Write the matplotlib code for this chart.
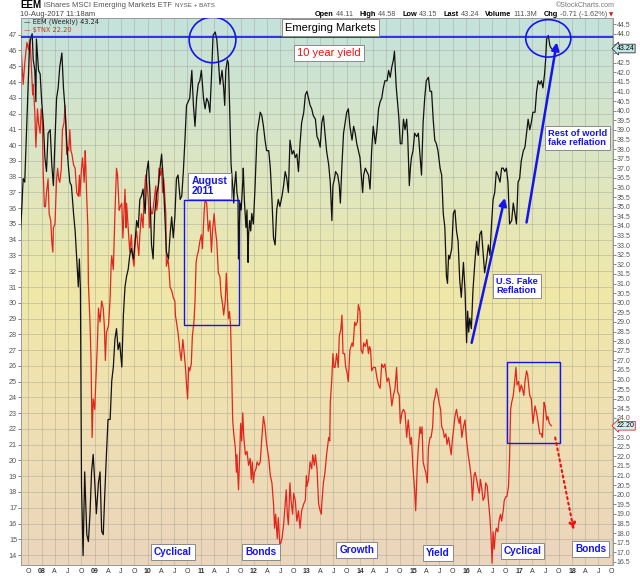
import matplotlib
matplotlib.use("Agg")
import matplotlib.pyplot as plt
import matplotlib.transforms as mtransforms
from matplotlib.colors import LinearSegmentedColormap
from matplotlib.patches import Ellipse, Rectangle
import numpy as np

plt.rcParams['font.family'] = ['Liberation Sans', 'DejaVu Sans']

# EEM weekly close (right axis)
eem_pts = [
    (2007.59, 33.38), (2007.62, 34.65), (2007.65, 36.47), (2007.68, 36.28), (2007.73, 40.28), (2007.77, 43.38),
    (2007.79, 43.74), (2007.82, 44.01), (2007.84, 42.65), (2007.87, 42.10), (2007.89, 40.47), (2007.90, 43.74),
    (2007.94, 42.10), (2007.97, 41.92),
    (2008.00, 40.47), (2008.03, 39.38), (2008.06, 37.56), (2008.09, 36.83), (2008.12, 38.83), (2008.16, 39.01),
    (2008.19, 37.19), (2008.22, 36.10), (2008.25, 38.47), (2008.28, 40.65), (2008.31, 41.19), (2008.34, 42.28),
    (2008.38, 43.01), (2008.41, 41.19), (2008.44, 40.10), (2008.47, 38.47), (2008.50, 37.19), (2008.53, 36.28),
    (2008.56, 36.10), (2008.60, 34.65), (2008.63, 33.74), (2008.66, 32.28), (2008.69, 30.83), (2008.71, 32.28),
    (2008.73, 30.65), (2008.75, 20.47), (2008.78, 16.83), (2008.81, 21.19), (2008.85, 17.92), (2008.88, 17.56),
    (2008.91, 19.01), (2008.94, 21.19), (2008.97, 22.10),
    (2009.00, 20.65), (2009.03, 19.01), (2009.07, 20.65), (2009.10, 21.19), (2009.13, 18.10), (2009.16, 17.92),
    (2009.19, 20.10), (2009.22, 22.10), (2009.25, 23.92), (2009.29, 23.92), (2009.32, 25.92), (2009.35, 26.65),
    (2009.38, 28.10), (2009.41, 28.65), (2009.44, 27.56), (2009.47, 27.92), (2009.51, 26.65), (2009.54, 29.38),
    (2009.57, 30.83), (2009.60, 31.38), (2009.63, 31.74), (2009.66, 32.47), (2009.69, 32.83), (2009.73, 32.28),
    (2009.76, 33.19), (2009.79, 34.28), (2009.82, 33.92), (2009.85, 35.38), (2009.88, 35.56), (2009.91, 35.92),
    (2009.95, 34.65), (2009.98, 36.83),
    (2010.01, 37.38), (2010.04, 35.74), (2010.07, 33.01), (2010.10, 32.28), (2010.13, 34.65), (2010.17, 35.74),
    (2010.20, 36.10), (2010.23, 37.01), (2010.26, 37.74), (2010.29, 36.47), (2010.32, 34.65), (2010.35, 32.65),
    (2010.39, 32.28), (2010.42, 33.56), (2010.45, 34.47), (2010.48, 33.38), (2010.51, 34.47), (2010.54, 36.47),
    (2010.57, 36.65), (2010.61, 35.38), (2010.64, 35.56), (2010.67, 36.83), (2010.70, 38.47), (2010.73, 40.28),
    (2010.76, 40.47), (2010.79, 40.65), (2010.83, 42.10), (2010.86, 40.28), (2010.89, 39.19), (2010.92, 40.65),
    (2010.95, 41.38), (2010.98, 41.56),
    (2011.01, 42.10), (2011.05, 40.65), (2011.08, 40.10), (2011.11, 40.65), (2011.14, 40.47), (2011.17, 39.92),
    (2011.20, 41.74), (2011.23, 43.92), (2011.27, 44.10), (2011.30, 43.74), (2011.33, 42.65), (2011.36, 41.38),
    (2011.40, 42.10), (2011.43, 41.19), (2011.45, 40.28), (2011.47, 42.10), (2011.50, 42.65), (2011.52, 42.47),
    (2011.53, 41.56), (2011.55, 39.38), (2011.57, 37.19), (2011.60, 36.10), (2011.62, 35.19), (2011.63, 35.92),
    (2011.66, 36.83), (2011.68, 35.74), (2011.70, 35.38), (2011.71, 32.28), (2011.72, 33.56), (2011.74, 35.19),
    (2011.76, 34.83), (2011.79, 36.28), (2011.80, 37.01), (2011.82, 35.38), (2011.85, 33.92), (2011.87, 34.83),
    (2011.89, 32.10), (2011.90, 33.56), (2011.92, 34.28), (2011.94, 33.74), (2011.96, 34.65), (2011.99, 34.10),
    (2012.02, 35.92), (2012.06, 38.83), (2012.09, 39.38), (2012.12, 39.92), (2012.15, 39.74), (2012.18, 39.19),
    (2012.21, 38.47), (2012.24, 37.92), (2012.28, 37.92), (2012.31, 37.01), (2012.34, 35.38), (2012.37, 33.38),
    (2012.40, 33.01), (2012.43, 34.83), (2012.46, 35.38), (2012.49, 35.01), (2012.53, 35.56), (2012.56, 36.10),
    (2012.59, 36.83), (2012.62, 36.47), (2012.65, 35.74), (2012.68, 38.47), (2012.72, 37.74), (2012.75, 37.92),
    (2012.78, 37.56), (2012.81, 37.74), (2012.84, 36.83), (2012.87, 38.28), (2012.90, 39.38), (2012.94, 39.92),
    (2012.97, 40.83),
    (2013.00, 41.01), (2013.03, 40.65), (2013.06, 40.28), (2013.09, 40.10), (2013.12, 39.74), (2013.16, 39.56),
    (2013.19, 38.65), (2013.22, 38.47), (2013.25, 38.10), (2013.28, 39.38), (2013.31, 39.74), (2013.34, 38.83),
    (2013.37, 37.92), (2013.41, 37.19), (2013.44, 36.28), (2013.47, 34.28), (2013.49, 36.10), (2013.52, 36.47),
    (2013.54, 36.83), (2013.58, 36.65), (2013.61, 36.10), (2013.63, 35.19), (2013.66, 37.19), (2013.69, 38.83),
    (2013.72, 39.38), (2013.75, 39.92), (2013.78, 40.10), (2013.81, 39.19), (2013.85, 38.47), (2013.88, 39.19),
    (2013.91, 38.83), (2013.94, 38.28), (2013.97, 37.92),
    (2014.00, 37.56), (2014.02, 36.83), (2014.05, 35.74), (2014.07, 36.65), (2014.10, 37.01), (2014.13, 36.83),
    (2014.16, 36.65), (2014.19, 35.92), (2014.22, 37.92), (2014.25, 39.19), (2014.29, 38.28), (2014.32, 39.01),
    (2014.35, 40.10), (2014.38, 40.47), (2014.41, 40.65), (2014.44, 41.19), (2014.47, 41.56), (2014.51, 41.56),
    (2014.54, 42.10), (2014.57, 41.74), (2014.60, 42.28), (2014.63, 42.65), (2014.65, 43.10), (2014.68, 41.38),
    (2014.69, 41.01), (2014.73, 39.74), (2014.76, 38.28), (2014.79, 38.28), (2014.82, 39.56), (2014.85, 39.01),
    (2014.88, 39.56), (2014.90, 38.65), (2014.93, 36.10), (2014.95, 37.01), (2014.97, 37.56),
    (2015.00, 37.92), (2015.03, 38.83), (2015.07, 38.65), (2015.10, 38.83), (2015.13, 37.74), (2015.16, 36.65),
    (2015.19, 39.38), (2015.22, 40.65), (2015.25, 41.56), (2015.29, 41.74), (2015.32, 41.01), (2015.35, 41.01),
    (2015.38, 39.56), (2015.41, 38.47), (2015.44, 38.28), (2015.47, 37.92), (2015.51, 37.01), (2015.54, 36.65),
    (2015.57, 34.65), (2015.60, 33.92), (2015.63, 31.38), (2015.65, 31.01), (2015.67, 32.47), (2015.69, 32.28),
    (2015.73, 32.83), (2015.76, 34.65), (2015.79, 34.83), (2015.82, 33.74), (2015.85, 33.19), (2015.88, 31.19),
    (2015.91, 30.28), (2015.95, 32.10), (2015.98, 30.65),
    (2016.01, 27.92), (2016.03, 29.56), (2016.05, 28.47), (2016.07, 29.19), (2016.10, 28.65), (2016.13, 30.65),
    (2016.17, 32.28), (2016.20, 33.19), (2016.23, 32.47), (2016.26, 33.56), (2016.29, 33.74), (2016.32, 32.65),
    (2016.35, 31.56), (2016.39, 32.28), (2016.42, 33.01), (2016.45, 32.47), (2016.48, 34.10), (2016.51, 35.38),
    (2016.54, 35.74), (2016.57, 36.83), (2016.60, 36.65), (2016.64, 36.28), (2016.67, 37.01), (2016.70, 37.01),
    (2016.73, 36.83), (2016.76, 37.01), (2016.79, 36.28), (2016.82, 34.10), (2016.86, 34.28), (2016.89, 35.19),
    (2016.92, 34.65), (2016.95, 34.10), (2016.98, 36.28),
    (2017.01, 36.47), (2017.04, 37.38), (2017.08, 37.92), (2017.11, 38.10), (2017.14, 38.83), (2017.17, 39.56),
    (2017.20, 39.01), (2017.23, 39.38), (2017.26, 39.92), (2017.30, 39.92), (2017.33, 41.01), (2017.36, 41.56),
    (2017.39, 41.38), (2017.42, 41.56), (2017.45, 41.19), (2017.48, 41.92), (2017.50, 42.65), (2017.52, 43.74),
    (2017.55, 43.92), (2017.58, 43.38), (2017.61, 43.24),
]

# $TNX weekly close (left axis, yield x10)
tnx_pts = [
    (2007.59, 47.06), (2007.62, 45.62), (2007.65, 43.85), (2007.68, 45.18), (2007.72, 46.51), (2007.75, 46.07),
    (2007.78, 46.73), (2007.81, 44.51), (2007.83, 43.18), (2007.84, 43.85), (2007.87, 42.08), (2007.89, 39.86),
    (2007.92, 42.30), (2007.94, 41.41), (2007.97, 40.75), (2007.99, 42.30),
    (2008.01, 41.63), (2008.03, 38.09), (2008.05, 36.09), (2008.07, 36.09), (2008.09, 36.98), (2008.12, 37.86),
    (2008.14, 35.65), (2008.17, 35.21), (2008.19, 33.88), (2008.21, 33.21), (2008.22, 34.76), (2008.25, 34.98),
    (2008.28, 37.86), (2008.30, 38.53), (2008.32, 37.86), (2008.34, 37.64), (2008.37, 38.53), (2008.39, 40.97),
    (2008.42, 41.41), (2008.44, 42.52), (2008.46, 40.75), (2008.47, 39.42), (2008.49, 39.86), (2008.51, 39.64),
    (2008.53, 40.97), (2008.55, 39.64), (2008.57, 39.42), (2008.60, 38.75), (2008.63, 38.53), (2008.66, 36.98),
    (2008.69, 36.76), (2008.71, 38.09), (2008.72, 36.76), (2008.75, 38.53), (2008.77, 39.19), (2008.80, 37.64),
    (2008.82, 39.64), (2008.83, 38.75), (2008.85, 36.54), (2008.87, 34.76), (2008.88, 31.22), (2008.91, 28.78),
    (2008.93, 26.34), (2008.95, 21.46), (2008.97, 23.90),
    (2009.00, 23.24), (2009.02, 25.01), (2009.05, 27.45), (2009.07, 29.66), (2009.10, 28.78), (2009.13, 30.11),
    (2009.16, 29.66), (2009.18, 28.56), (2009.20, 26.34), (2009.22, 28.11), (2009.26, 28.56), (2009.29, 30.33),
    (2009.31, 32.55), (2009.32, 32.99), (2009.35, 32.10), (2009.38, 35.65), (2009.41, 38.53), (2009.43, 38.09),
    (2009.46, 35.87), (2009.48, 36.09), (2009.51, 36.31), (2009.53, 34.10), (2009.55, 35.65), (2009.57, 37.20),
    (2009.59, 34.76), (2009.60, 36.31), (2009.63, 34.76), (2009.66, 33.21), (2009.69, 34.32), (2009.71, 32.99),
    (2009.74, 32.32), (2009.76, 33.88), (2009.79, 34.54), (2009.81, 33.65), (2009.83, 32.99), (2009.85, 34.32),
    (2009.88, 35.65), (2009.91, 34.76), (2009.93, 36.76), (2009.96, 38.09), (2009.98, 37.64),
    (2010.01, 36.54), (2010.03, 34.76), (2010.05, 36.09), (2010.07, 35.65), (2010.09, 35.65), (2010.12, 36.54),
    (2010.15, 37.42), (2010.17, 35.87), (2010.19, 36.54), (2010.21, 38.53), (2010.24, 38.09), (2010.26, 38.53),
    (2010.28, 36.98), (2010.30, 37.86), (2010.34, 35.65), (2010.35, 32.32), (2010.38, 32.78), (2010.40, 32.10),
    (2010.42, 30.99), (2010.45, 30.77), (2010.48, 30.33), (2010.51, 30.11), (2010.52, 29.22), (2010.54, 28.78),
    (2010.57, 28.11), (2010.61, 26.78), (2010.63, 26.34), (2010.66, 27.67), (2010.68, 27.01), (2010.71, 25.90),
    (2010.73, 24.79), (2010.75, 23.90), (2010.77, 25.90), (2010.79, 25.68), (2010.82, 26.12), (2010.84, 27.89),
    (2010.87, 28.78), (2010.89, 30.11), (2010.91, 32.55), (2010.93, 32.99), (2010.95, 33.21), (2010.98, 33.88),
    (2011.01, 34.32), (2011.03, 33.43), (2011.06, 35.65), (2011.08, 36.54), (2011.11, 36.31), (2011.14, 34.54),
    (2011.17, 35.21), (2011.20, 33.21), (2011.22, 34.54), (2011.25, 35.65), (2011.27, 34.76), (2011.30, 33.88),
    (2011.33, 31.88), (2011.36, 31.66), (2011.38, 30.55), (2011.41, 29.89), (2011.43, 29.22), (2011.46, 30.11),
    (2011.48, 31.88), (2011.50, 30.33), (2011.52, 29.00), (2011.54, 29.44), (2011.56, 28.56), (2011.58, 25.90),
    (2011.60, 22.57), (2011.62, 21.69), (2011.65, 20.80), (2011.67, 19.25), (2011.68, 20.36), (2011.71, 18.14),
    (2011.73, 20.13), (2011.75, 22.35), (2011.77, 21.24), (2011.79, 23.02), (2011.81, 21.46), (2011.84, 20.36),
    (2011.87, 20.58), (2011.90, 19.69), (2011.93, 20.13), (2011.95, 18.80), (2011.97, 19.91), (2011.99, 18.58),
    (2012.01, 19.25), (2012.04, 19.47), (2012.06, 19.91), (2012.09, 19.69), (2012.12, 19.91), (2012.15, 21.46),
    (2012.18, 22.79), (2012.21, 22.13), (2012.24, 21.02), (2012.28, 20.13), (2012.31, 19.03), (2012.34, 18.58),
    (2012.37, 17.25), (2012.39, 15.70), (2012.41, 16.59), (2012.44, 15.04), (2012.46, 16.37), (2012.49, 14.59),
    (2012.53, 15.04), (2012.56, 15.92), (2012.59, 17.25), (2012.61, 18.14), (2012.63, 16.59), (2012.65, 15.92),
    (2012.68, 18.58), (2012.70, 17.47), (2012.73, 16.59), (2012.75, 17.92), (2012.78, 17.47), (2012.81, 16.15),
    (2012.84, 16.81), (2012.87, 15.70), (2012.90, 16.81), (2012.94, 17.25), (2012.97, 17.47), (2012.99, 19.03),
    (2013.00, 18.36), (2013.03, 18.80), (2013.06, 19.91), (2013.09, 19.47), (2013.11, 20.36), (2013.14, 19.69),
    (2013.16, 20.36), (2013.19, 19.47), (2013.22, 17.25), (2013.25, 16.81), (2013.27, 16.59), (2013.28, 17.25),
    (2013.31, 18.58), (2013.34, 19.25), (2013.37, 20.36), (2013.41, 21.46), (2013.43, 21.24), (2013.44, 23.68),
    (2013.47, 25.23), (2013.49, 26.78), (2013.51, 25.90), (2013.53, 25.90), (2013.56, 26.78), (2013.59, 25.90),
    (2013.61, 27.89), (2013.64, 28.33), (2013.66, 29.22), (2013.68, 26.78), (2013.71, 26.78), (2013.73, 25.90),
    (2013.75, 25.68), (2013.78, 25.01), (2013.81, 27.01), (2013.85, 27.45), (2013.87, 27.23), (2013.90, 28.78),
    (2013.92, 28.56), (2013.95, 28.78), (2013.97, 29.89),
    (2014.00, 29.44), (2014.02, 27.01), (2014.05, 26.78), (2014.07, 27.45), (2014.10, 27.23), (2014.13, 27.67),
    (2014.16, 26.78), (2014.18, 27.23), (2014.20, 27.01), (2014.22, 25.68), (2014.25, 25.90), (2014.29, 25.90),
    (2014.32, 25.23), (2014.35, 24.79), (2014.38, 24.57), (2014.41, 26.12), (2014.44, 25.90), (2014.47, 26.12),
    (2014.51, 25.01), (2014.54, 25.23), (2014.57, 24.57), (2014.60, 23.46), (2014.63, 24.12), (2014.66, 24.57),
    (2014.69, 25.90), (2014.71, 24.35), (2014.74, 24.12), (2014.76, 22.35), (2014.79, 23.02), (2014.82, 23.24),
    (2014.85, 23.02), (2014.88, 21.46), (2014.91, 22.57), (2014.95, 21.02), (2014.97, 21.46),
    (2015.00, 19.47), (2015.03, 18.14), (2015.05, 16.81), (2015.08, 19.69), (2015.10, 20.80), (2015.13, 22.13),
    (2015.15, 21.69), (2015.17, 22.13), (2015.19, 19.91), (2015.22, 19.47), (2015.24, 19.25), (2015.27, 18.58),
    (2015.29, 20.80), (2015.32, 21.46), (2015.34, 21.46), (2015.37, 22.13), (2015.39, 23.68), (2015.42, 24.12),
    (2015.44, 24.57), (2015.47, 24.12), (2015.49, 23.68), (2015.52, 23.24), (2015.54, 22.13), (2015.57, 21.91),
    (2015.59, 21.46), (2015.62, 21.69), (2015.64, 21.02), (2015.67, 21.46), (2015.69, 21.02), (2015.72, 20.36),
    (2015.74, 21.24), (2015.77, 22.13), (2015.79, 22.79), (2015.82, 23.24), (2015.84, 22.79), (2015.87, 22.35),
    (2015.89, 22.79), (2015.92, 21.46), (2015.95, 22.13), (2015.98, 22.57),
    (2016.01, 21.24), (2016.04, 20.36), (2016.07, 19.69), (2016.10, 18.80), (2016.12, 17.47), (2016.15, 19.03),
    (2016.17, 19.25), (2016.20, 18.80), (2016.22, 18.36), (2016.25, 17.92), (2016.27, 18.80), (2016.30, 18.14),
    (2016.32, 17.47), (2016.35, 17.70), (2016.37, 18.58), (2016.40, 18.36), (2016.42, 17.47), (2016.45, 16.37),
    (2016.47, 15.26), (2016.49, 13.49), (2016.51, 15.48), (2016.53, 14.37), (2016.55, 15.26), (2016.57, 15.70),
    (2016.60, 15.48), (2016.62, 16.15), (2016.65, 16.59), (2016.67, 16.15), (2016.70, 16.81), (2016.72, 17.47),
    (2016.75, 17.70), (2016.77, 17.70), (2016.80, 18.36), (2016.82, 20.13), (2016.84, 23.24), (2016.86, 23.68),
    (2016.89, 24.12), (2016.91, 24.79), (2016.94, 25.90), (2016.96, 24.79), (2016.99, 25.01),
    (2017.01, 24.35), (2017.04, 24.79), (2017.06, 24.57), (2017.09, 24.12), (2017.11, 25.01), (2017.14, 25.68),
    (2017.16, 25.45), (2017.18, 24.79), (2017.20, 24.12), (2017.23, 23.90), (2017.26, 22.35), (2017.30, 23.46),
    (2017.33, 23.02), (2017.36, 22.35), (2017.39, 21.69), (2017.42, 21.69), (2017.44, 21.46), (2017.47, 23.68),
    (2017.49, 23.46), (2017.52, 22.57), (2017.54, 22.79), (2017.57, 22.35), (2017.61, 22.20),
]

eem_dates, eem_close = zip(*eem_pts)
tnx_dates, tnx_close = zip(*tnx_pts)
eem_last = 43.24
tnx_last = 22.20

# quote header
quote = [("Open", "44.11"), ("High", "44.58"), ("Low", "43.15"), ("Last", "43.24"),
         ("Volume", "111.3M"), ("Chg", "-0.71 (-1.62%)")]

BLUE = '#1414f0'
RED = '#e3261c'

fig = plt.figure(figsize=(6.4, 5.76), dpi=100)
ax = fig.add_axes([20.5 / 640, 11 / 576, 592.5 / 640, 547 / 576])

# background gradient teal -> yellow -> tan
bg = LinearSegmentedColormap.from_list('bg', [(0, '#ebd5bd'), (0.25, '#efdfb3'), (0.5, '#f0e8a8'),
                                              (0.72, '#dde6c2'), (1, '#c4e2dc')])
grad = np.linspace(0, 1, 256).reshape(-1, 1)
ax.imshow(grad, cmap=bg, origin='lower', extent=[0, 1, 0, 1], transform=ax.transAxes,
          aspect='auto', zorder=0)

ax.set_xlim(2007.60, 2018.77)
ax.set_ylim(13.37, 48.06)
ax2 = ax.twinx()
ax2.set_ylim(16.34, 44.83)

ax.plot(tnx_dates, tnx_close, color=RED, lw=0.9, zorder=3)
ax2.plot(eem_dates, eem_close, color='#111111', lw=0.9, zorder=3)

# x ticks at quarters
tick_pos, tick_lab = [], []
for yr in range(2007, 2019):
    for off, lab in [(0.0, '%02d' % (yr % 100)), (0.246, 'A'), (0.496, 'J'), (0.748, 'O')]:
        t = yr + off
        if 2007.6 <= t <= 2018.77:
            tick_pos.append(t)
            tick_lab.append(lab)
ax.set_xticks(tick_pos)
ax.set_xticklabels(tick_lab)
for lbl in ax.get_xticklabels():
    if lbl.get_text().isdigit():
        lbl.set_fontweight('bold')
ax.set_yticks(range(14, 48))
ax.grid(True, color='#9a9a8a', lw=0.6, alpha=0.45)
ax.tick_params(axis='x', labelsize=5, length=0, pad=2, colors='#333333')
ax.tick_params(axis='y', labelsize=5.2, length=2, pad=0.5, width=0.5, colors='#555555')

eem_ticks = np.arange(16.5, 44.51, 0.5)
ax2.set_yticks(eem_ticks)
ax2.yaxis.set_major_formatter('{x:.1f}')
ax2.tick_params(axis='y', labelsize=5, length=2, pad=0.5, width=0.5, colors='#555555')
for a in (ax, ax2):
    for sp in a.spines.values():
        sp.set_color('#9a9a9a')
        sp.set_linewidth(0.6)

# hide the right-axis labels that sit under the last-value tags
tag_px = [ax2.transData.transform((0, eem_last))[1], ax.transData.transform((0, tnx_last))[1]]
for v, lbl in zip(eem_ticks, ax2.get_yticklabels()):
    py = ax2.transData.transform((0, v))[1]
    if min(abs(py - t) for t in tag_px) < 7:
        lbl.set_visible(False)

# annotations
ax2.axhline(43.85, color=BLUE, lw=1.2, zorder=4)
ax2.add_patch(Ellipse((2011.22, 43.69), 0.88, 2.38, fill=False, ec=BLUE, lw=1.2, zorder=5))
ax2.add_patch(Ellipse((2017.55, 43.77), 0.85, 1.95, fill=False, ec=BLUE, lw=1.2, zorder=5))
ax.add_patch(Rectangle((2010.69, 28.56), 1.03, 7.94, fill=False, ec=BLUE, lw=1.0, zorder=5))
ax.add_patch(Rectangle((2016.765, 21.13), 1.015, 5.10, fill=False, ec=BLUE, lw=1.0, zorder=5))

arrow = dict(arrowstyle='-|>', color=BLUE, lw=1.8, mutation_scale=11, shrinkA=0, shrinkB=0)
ax2.annotate('', xy=(2016.73, 35.46), xytext=(2016.105, 27.91), arrowprops=arrow, zorder=6)
ax2.annotate('', xy=(2017.71, 43.56), xytext=(2017.14, 34.18), arrowprops=arrow, zorder=6)
ax.annotate('', xy=(2018.03, 15.59), xytext=(2017.68, 21.45),
            arrowprops=dict(arrowstyle='-|>', color='#ee1111', lw=1.5, linestyle=':',
                            mutation_scale=10, shrinkA=0, shrinkB=0), zorder=6)

box = dict(boxstyle='square,pad=0.3', fc='white', ec='#8a8a8a', lw=0.7)


def label(x, y, s, color=BLUE, size=7.2, weight='bold'):
    ax2.text(x, y, s, transform=ax.transAxes, ha='center', va='center', multialignment='left',
             color=color, fontsize=size, fontweight=weight, bbox=box, zorder=8, linespacing=1.05)


label(0.5232, 0.9824, 'Emerging Markets', color='black', size=8, weight='normal')
label(0.5202, 0.9362, '10 year yield', color='#ee1111', size=8, weight='normal')
label(0.3189, 0.6929, 'August\n2011', size=7.5)
label(0.9401, 0.7812, 'Rest of world\nfake reflation', size=6.7)
label(0.8380, 0.5097, 'U.S. Fake\nReflation', size=6.7)
label(0.2574, 0.0243, 'Cyclical')
label(0.4059, 0.0238, 'Bonds')
label(0.5674, 0.0271, 'Growth')
label(0.7046, 0.0214, 'Yield')
label(0.8473, 0.0252, 'Cyclical')
label(0.9624, 0.0296, 'Bonds')

# in-chart legend
ax2.text(0.006, 0.9927, '\u2014 EEM (Weekly) 43.24', transform=ax.transAxes, fontsize=4.8,
         family='DejaVu Sans', color='#222222', va='center', zorder=8)
ax2.text(0.006, 0.9778, '\u2014 \\$TNX 22.20', transform=ax.transAxes, fontsize=4.8,
         family='DejaVu Sans', color=RED, va='center', zorder=8)

# last-value tags on the right axis
trans2 = mtransforms.blended_transform_factory(ax2.transAxes, ax2.transData)
trans1 = mtransforms.blended_transform_factory(ax.transAxes, ax.transData)
ax2.text(1.006, eem_last, '%.2f' % eem_last, transform=trans2, fontsize=5, va='center', ha='left',
         bbox=dict(boxstyle='larrow,pad=0.12', fc='#bfe6e2', ec='#333333', lw=0.6), zorder=9, clip_on=False)
ax2.text(1.006, tnx_last, '%.2f' % tnx_last, transform=trans1, fontsize=5, va='center', ha='left',
         bbox=dict(boxstyle='larrow,pad=0.12', fc='#d4f0f0', ec=RED, lw=0.6), zorder=9, clip_on=False)

# header, laid out piece by piece so nothing collides
renderer = fig.canvas.get_renderer()


def width_px(t):
    return t.get_window_extent(renderer).width


x = 20
for s, kw in [('EEM', dict(fontsize=7, fontweight='bold')),
              ('iShares MSCI Emerging Markets ETF', dict(fontsize=5.5, color='#555555')),
              ('NYSE + BATS', dict(fontsize=4.5, color='#555555'))]:
    t = fig.text(x / 640, 1 - 5.5 / 576, s, va='center', **kw)
    x += width_px(t) + 3
fig.text(20 / 640, 1 - 14 / 576, '10-Aug-2017 11:18am', fontsize=5.5, color='#444444', va='center')
fig.text(615 / 640, 1 - 5.5 / 576, '\u00a9StockCharts.com', fontsize=5, color='#777777', va='center', ha='right')

x = 613
t = fig.text(x / 640, 1 - 14.5 / 576, '\u25bc', fontsize=4, color='#cc2222', va='center', ha='right',
             family='DejaVu Sans')
x -= width_px(t) + 2
for name, val in reversed(quote):
    t = fig.text(x / 640, 1 - 14.5 / 576, val, fontsize=5.3, color='#555555', va='center', ha='right')
    x -= width_px(t) + 2
    t = fig.text(x / 640, 1 - 14.5 / 576, name, fontsize=5.3, fontweight='bold', va='center', ha='right')
    x -= width_px(t) + 6

fig.savefig('out.png', dpi=100)
